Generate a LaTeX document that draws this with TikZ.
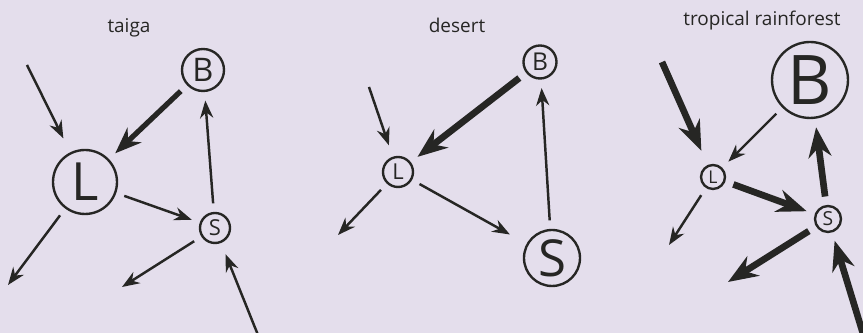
\documentclass[tikz,border=0pt]{standalone}
\usepackage{fontspec}
\setmainfont{Open Sans}
\usetikzlibrary{arrows.meta}

\definecolor{paper}{RGB}{228,222,236}
\definecolor{ink}{RGB}{38,38,36}

\tikzset{
  pool/.style={draw=ink, circle, line width=1.35pt, inner sep=0pt, outer sep=5.5pt, text=ink},
  flux/.style={draw=ink, line width=1.4pt, -{Stealth[length=10pt,width=7.5pt]}},
  strong/.style={draw=ink, line width=3pt, -{Stealth[length=15pt,width=11.5pt]}},
  heavy/.style={draw=ink, line width=3.8pt, -{Stealth[length=17pt,width=13pt]}},
  biome/.style={font=\fontsize{10.8}{12}\selectfont, text=ink},
}
\newcommand{\lettersize}[1]{\fontsize{#1}{#1}\selectfont}

\begin{document}
\begin{tikzpicture}[x=0.02cm, y=-0.02cm]
  \fill[paper] (0,0) rectangle (863,333);
  \useasboundingbox (0,0) rectangle (863,333);
  \clip (0,0) rectangle (863,333);

  % taiga
  \node[biome] (taiga) at (129,28) {taiga};
  \node[pool, minimum size=1.28cm, font=\lettersize{30}] (tL) at (85,182) {L};
  \node[pool, minimum size=0.84cm, font=\lettersize{18.5}] (tB) at (203,70) {B};
  \node[pool, minimum size=0.6cm, font=\lettersize{12.5}] (tS) at (215,228) {S};
  \coordinate (tin) at (27,65);
  \coordinate (tout) at (8,285);
  \coordinate (tsout) at (122,287);
  \coordinate (tsin) at (262,345);
  \draw[flux, shorten >=4pt] (tin) -- (tL);
  \draw[strong] (tB) -- (tL);
  \draw[flux] (tL) -- (tS);
  \draw[flux] (tS) -- (tB);
  \draw[flux] (tL) -- (tout);
  \draw[flux] (tS) -- (tsout);
  \draw[flux, shorten >=2pt] (tsin) -- (tS);

  % desert
  \node[biome] (desert) at (457,25) {desert};
  \node[pool, minimum size=0.6cm, font=\lettersize{12.5}] (dL) at (398,172) {L};
  \node[pool, minimum size=0.66cm, font=\lettersize{14}] (dB) at (540,62) {B};
  \node[pool, minimum size=1.12cm, font=\lettersize{29}] (dS) at (552,258) {S};
  \coordinate (din) at (369,87);
  \coordinate (dout) at (338,235);
  \draw[flux, shorten >=2pt] (din) -- (dL);
  \draw[heavy] (dB) -- (dL);
  \draw[flux, shorten >=6pt] (dL) -- (dS);
  \draw[flux] (dS) -- (dB);
  \draw[flux] (dL) -- (dout);

  % tropical rainforest
  \node[biome] (rain) at (762,21) {tropical rainforest};
  \node[pool, minimum size=0.48cm, font=\lettersize{10}] (rL) at (713,177) {L};
  \node[pool, minimum size=1.52cm, font=\lettersize{39}] (rB) at (810,80) {B};
  \node[pool, minimum size=0.52cm, font=\lettersize{11}] (rS) at (828,219) {S};
  \coordinate (rin) at (662,62);
  \coordinate (rout) at (669,245);
  \coordinate (rsout) at (728,282);
  \coordinate (rsin) at (868,350);
  \draw[heavy, shorten >=4pt] (rin) -- (rL);
  \draw[flux] (rB) -- (rL);
  \draw[heavy] (rL) -- (rS);
  \draw[heavy] (rS) -- (rB);
  \draw[flux] (rL) -- (rout);
  \draw[heavy] (rS) -- (rsout);
  \draw[heavy] (rsin) -- (rS);
\end{tikzpicture}
\end{document}
